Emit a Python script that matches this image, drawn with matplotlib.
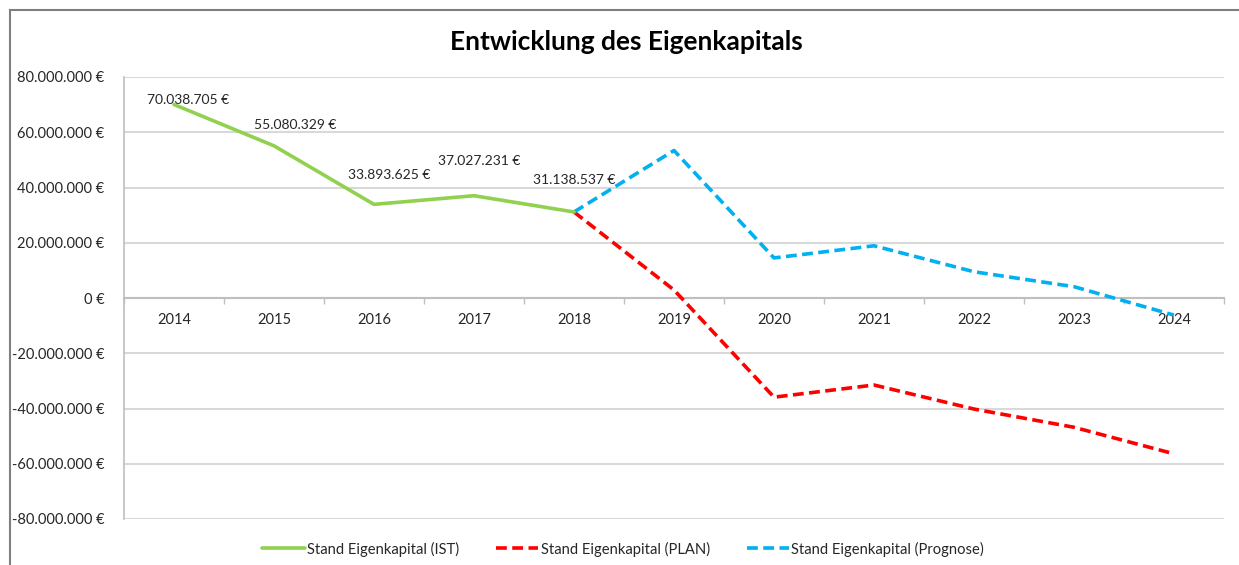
import matplotlib
matplotlib.use("Agg")
import matplotlib.pyplot as plt
from matplotlib.ticker import FuncFormatter, FixedLocator
from matplotlib.lines import Line2D

plt.rcParams['font.family'] = ['Lato', 'DejaVu Sans']

years = ["2014", "2015", "2016", "2017", "2018", "2019", "2020", "2021", "2022", "2023", "2024"]
ist_values = [70038705, 55080329, 33893625, 37027231, 31138537]
plan_values = [31138537, 2900000, -35900000, -31500000, -40200000, -46800000, -56400000]
prognose_values = [31138537, 53400000, 14500000, 18900000, 9500000, 4100000, -6200000]
ist_labels = ["70.038.705 €", "55.080.329 €", "33.893.625 €", "37.027.231 €", "31.138.537 €"]
y_ticks = [-80000000, -60000000, -40000000, -20000000, 0, 20000000, 40000000, 60000000, 80000000]

fig = plt.figure(figsize=(12.39, 5.65), dpi=100)
ax = fig.add_axes([124/1239, 1-519/565, 1100/1239, 442/565])

x_ist = list(range(len(ist_values)))
x_plan = list(range(4, 4 + len(plan_values)))
x_prog = list(range(4, 4 + len(prognose_values)))

ax.plot(x_ist, ist_values, color='#92D050', lw=2.6, solid_capstyle='round', zorder=4,
        label='Stand Eigenkapital (IST)')
ax.plot(x_plan, plan_values, color='#FF0000', lw=2.6, dashes=(3.0, 1.5), zorder=3,
        label='Stand Eigenkapital (PLAN)')
ax.plot(x_prog, prognose_values, color='#00B0F0', lw=2.6, dashes=(3.0, 1.5), zorder=3,
        label='Stand Eigenkapital (Prognose)')

offsets = [(10, 3), (15, 15), (11, 21), (4, 25), (0, 23)]
for xi, v, lab, off in zip(x_ist, ist_values, ist_labels, offsets):
    ax.annotate(lab, (xi, v), xytext=off, textcoords='offset points',
                ha='center', va='center', fontsize=10, color='#262626', zorder=5)

ax.set_xlim(-0.5, len(years) - 0.5)
ax.set_ylim(-80000000, 80000000)

def euro(v, pos=None):
    v = int(round(v))
    s = f"{abs(v):,}".replace(",", ".")
    return ("-" if v < 0 else "") + s + " €"

ax.yaxis.set_major_locator(FixedLocator(y_ticks))
ax.yaxis.set_major_formatter(FuncFormatter(euro))
ax.tick_params(axis='y', length=0, pad=14, labelsize=10.5, labelcolor='#262626')

ax.set_xticks(range(len(years)))
ax.set_xticklabels(years)
ax.set_xticks([i - 0.5 for i in range(len(years) + 1)], minor=True)
ax.tick_params(axis='x', which='major', length=0, pad=11, labelsize=10.5, labelcolor='#262626')
ax.tick_params(axis='x', which='minor', length=4, width=1, color='#BFBFBF', direction='out')

ax.grid(axis='y', color='#D9D9D9', lw=1.5, zorder=0)
ax.set_axisbelow(True)
for s in ['top', 'right']:
    ax.spines[s].set_visible(False)
ax.spines['left'].set_color('#BFBFBF')
ax.spines['left'].set_linewidth(1.2)
ax.spines['bottom'].set_position(('data', 0))
ax.spines['bottom'].set_color('#BFBFBF')
ax.spines['bottom'].set_linewidth(1.5)

fig.text(626/1239, 1-42/565, "Entwicklung des Eigenkapitals", ha='center', va='center',
         fontsize=19, fontweight='bold', color='#000000')

leg = fig.legend(loc='center', bbox_to_anchor=(623/1239, 1-549/565), ncol=3, frameon=False,
                 fontsize=10.6, handlelength=2.9, handletextpad=0.15, columnspacing=2.5,
                 labelcolor='#262626')

fig.add_artist(Line2D([10/1239, 10/1239], [0, 1-10/565], transform=fig.transFigure,
                      color='#7F7F7F', lw=1.5))
fig.add_artist(Line2D([10/1239, 1], [1-10/565, 1-10/565], transform=fig.transFigure,
                      color='#7F7F7F', lw=1.5))

fig.savefig("out.png", dpi=100)
